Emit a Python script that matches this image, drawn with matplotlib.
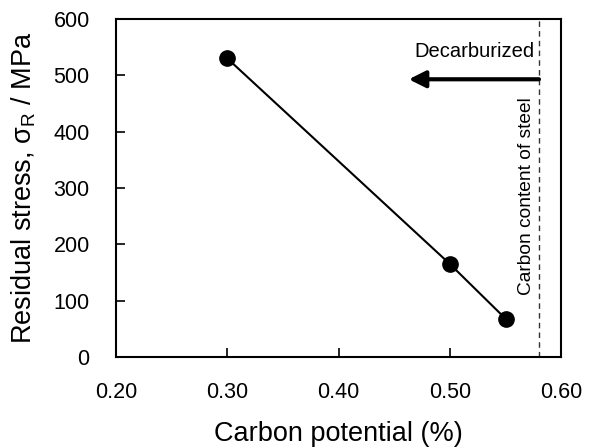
"""Residual stress versus carbon potential."""

import matplotlib

matplotlib.use("Agg")
import matplotlib.pyplot as plt

plt.rcParams["font.family"] = ["Liberation Sans", "DejaVu Sans"]
plt.rcParams["mathtext.fontset"] = "custom"
plt.rcParams["mathtext.rm"] = "Liberation Sans"

# data
carbon_potential = [0.30, 0.50, 0.55]
residual_stress = [530, 165, 68]
steel_carbon = 0.58
arrow_tip = 0.463
arrow_level = 493
x_ticks = [0.20, 0.30, 0.40, 0.50, 0.60]
y_ticks = [0, 100, 200, 300, 400, 500, 600]

fig = plt.figure(figsize=(5.92, 4.47), dpi=100)
ax = fig.add_axes([0.196, 0.2013, 0.752, 0.7562])

ax.plot(
    carbon_potential,
    residual_stress,
    color="black",
    linewidth=1.5,
    marker="o",
    markersize=11,
)
ax.axvline(steel_carbon, color="#333333", linewidth=1.0, linestyle=(0, (4, 3)))
ax.annotate(
    "",
    xy=(arrow_tip, arrow_level),
    xytext=(steel_carbon, arrow_level),
    arrowprops=dict(
        arrowstyle="-|>,head_length=1.0,head_width=0.5",
        color="black",
        linewidth=3,
        shrinkA=0,
        shrinkB=0,
    ),
)
ax.text(
    steel_carbon - 0.004,
    543,
    "Decarburized",
    ha="right",
    va="center",
    fontsize=14.5,
)
ax.text(
    steel_carbon - 0.011,
    286,
    "Carbon content of steel",
    rotation=90,
    ha="center",
    va="center",
    fontsize=13.8,
)

ax.set_xlim(0.20, 0.60)
ax.set_ylim(0, 600)
ax.set_xticks(x_ticks)
ax.set_xticklabels([f"{t:.2f}" for t in x_ticks])
ax.set_yticks(y_ticks)
ax.tick_params(direction="in", length=6.5, width=1.2, labelsize=15.5)
ax.tick_params(axis="y", pad=19)
ax.tick_params(axis="x", pad=18)
for spine in ax.spines.values():
    spine.set_linewidth(1.5)

ax.set_xlabel("Carbon potential (%)", fontsize=19.5, va="center")
ax.set_ylabel(r"Residual stress, σ$_\mathregular{R}$ / MPa", fontsize=19.5, va="center")
ax.xaxis.set_label_coords(0.5, -0.228)
ax.yaxis.set_label_coords(-0.207, 0.5)

fig.savefig("out.png", dpi=100)
